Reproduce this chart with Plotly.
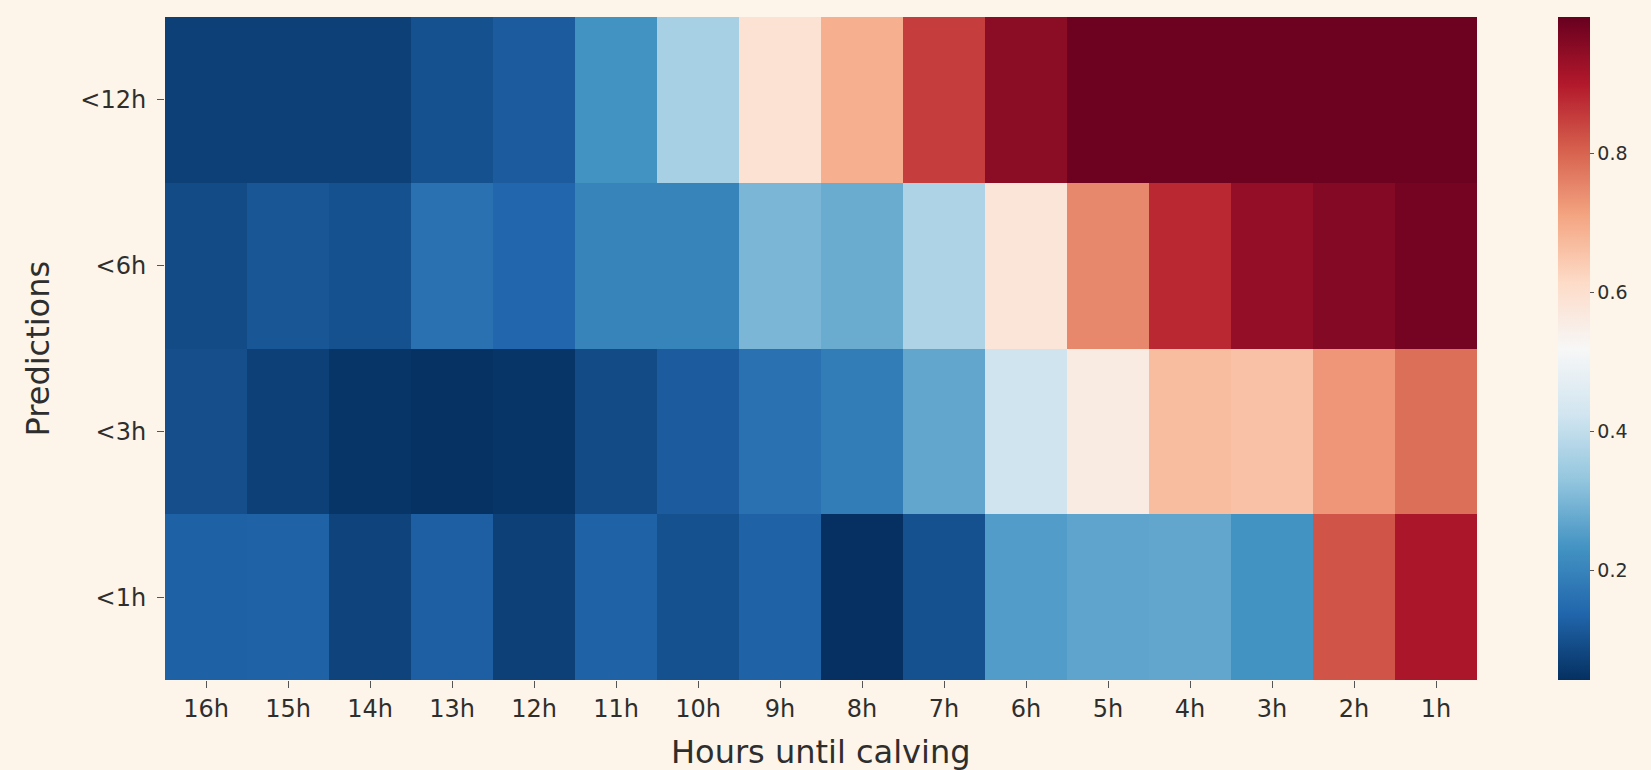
import plotly.graph_objects as go

hours = ["16h", "15h", "14h", "13h", "12h", "11h", "10h", "9h",
         "8h", "7h", "6h", "5h", "4h", "3h", "2h", "1h"]
predictions = ["<12h", "<6h", "<3h", "<1h"]

row_12h = [0.07, 0.07, 0.07, 0.10, 0.12, 0.23, 0.36, 0.59,
           0.69, 0.85, 0.95, 0.99, 0.99, 0.99, 0.99, 0.99]
row_6h = [0.09, 0.11, 0.10, 0.16, 0.14, 0.20, 0.20, 0.30,
          0.28, 0.37, 0.58, 0.75, 0.88, 0.94, 0.96, 0.98]
row_3h = [0.095, 0.07, 0.05, 0.045, 0.05, 0.09, 0.12, 0.16,
          0.185, 0.27, 0.42, 0.56, 0.67, 0.66, 0.73, 0.785]
row_1h = [0.128, 0.13, 0.075, 0.125, 0.07, 0.13, 0.10, 0.13,
          0.042, 0.10, 0.25, 0.265, 0.27, 0.23, 0.82, 0.91]

z_values = [row_12h, row_6h, row_3h, row_1h]

rdbu_r = ["rgb(5,48,97)", "rgb(33,102,172)", "rgb(67,147,195)", "rgb(146,197,222)",
          "rgb(209,229,240)", "rgb(247,247,247)", "rgb(253,219,199)", "rgb(244,165,130)",
          "rgb(214,96,77)", "rgb(178,24,43)", "rgb(103,0,31)"]
colorscale = [[i / 10, c] for i, c in enumerate(rdbu_r)]

bg = "#fdf5e9"
txt = "#2e2e2e"
font_family = "DejaVu Sans"

fig = go.Figure(go.Heatmap(
    z=z_values,
    x=hours,
    y=predictions,
    colorscale=colorscale,
    zmin=0.042,
    zmax=0.996,
    showscale=True,
    colorbar=dict(
        x=1.0617, xanchor="left", xref="paper",
        y=0.5, yanchor="middle", len=1.0, lenmode="fraction",
        thickness=32, ypad=0, xpad=0,
        outlinewidth=0,
        tickvals=[0.2, 0.4, 0.6, 0.8],
        ticktext=["0.2", "0.4", "0.6", "0.8"],
        ticks="outside", ticklen=4, tickcolor="#555555",
        tickfont=dict(family=font_family, size=19, color=txt),
    ),
))

fig.update_layout(
    width=1651, height=770,
    margin=dict(l=165, r=174, t=17, b=90),
    paper_bgcolor=bg, plot_bgcolor=bg,
    font=dict(family=font_family, color=txt),
    xaxis=dict(
        type="category", showgrid=False, zeroline=False, showline=False,
        ticks="outside", ticklen=7, tickcolor="#555555",
        tickfont=dict(size=24, color=txt), automargin=False,
    ),
    yaxis=dict(
        type="category", showgrid=False, zeroline=False, showline=False,
        autorange="reversed",
        ticks="outside", ticklen=7, tickcolor="#555555",
        tickfont=dict(size=24, color=txt), automargin=False,
        ticklabelstandoff=6,
    ),
    annotations=[
        dict(text="Hours until calving", xref="paper", yref="paper",
             x=0.5, y=-0.108, xanchor="center", yanchor="middle",
             showarrow=False, font=dict(size=32, color=txt, family=font_family)),
        dict(text="Predictions", xref="paper", yref="paper",
             x=-0.0968, y=0.5, xanchor="center", yanchor="middle",
             textangle=-90, showarrow=False,
             font=dict(size=32, color=txt, family=font_family)),
    ],
)

fig.write_html(
    "out.html",
    config={"displayModeBar": False},
    post_script="document.body.style.margin='0';document.body.style.background='" + bg + "';",
)
